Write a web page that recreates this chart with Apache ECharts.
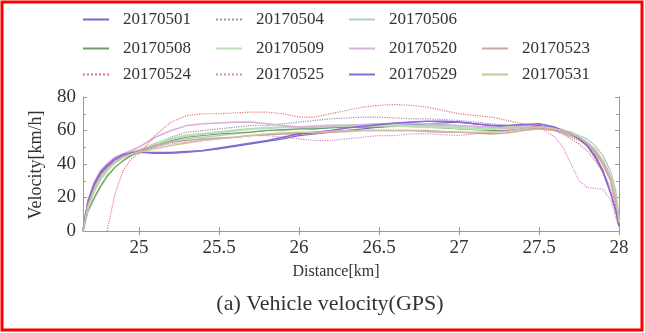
<!DOCTYPE html>
<html>
<head>
<meta charset="utf-8">
<script src="https://cdn.jsdelivr.net/npm/echarts@6/dist/echarts.min.js"></script>
<style>
html, body { margin: 0; padding: 0; background: #fff; }
#chart { width: 645px; height: 333px; }
</style>
</head>
<body>
<div id="chart"></div>
<script>
// distance points [km]
var dist = [24.65, 24.68, 24.72, 24.76, 24.8, 24.85, 24.9, 24.95, 25, 25.1, 25.2, 25.3, 25.4, 25.5, 25.6, 25.7, 25.8, 25.9, 26, 26.1, 26.2, 26.3, 26.4, 26.5, 26.6, 26.7, 26.8, 26.9, 27, 27.1, 27.2, 27.3, 27.4, 27.5, 27.6, 27.65, 27.7, 27.75, 27.8, 27.85, 27.9, 27.95, 27.98, 28];
var xTicks = [25, 25.5, 26, 26.5, 27, 27.5, 28];

// velocity [km/h] per day
var v20170501 = [0, 16, 27, 34, 38, 42, 45, 46.5, 47, 47, 47, 47.5, 48, 49, 50.5, 52, 53.5, 55, 57, 58, 59, 60, 61, 62, 63, 63.5, 64, 64.5, 65, 64, 63, 62, 62.5, 63, 61, 60, 58, 55, 51, 44, 35, 22, 12, 3];
var v20170504 = [0, 15, 26, 33, 38, 42, 45, 47, 48, 52, 56, 59, 60, 61, 62, 63, 63, 64, 65, 66, 67, 67.5, 68, 68, 67.5, 67, 67, 66.5, 66, 65, 64, 63, 63, 62, 60, 58, 56, 54, 52, 48, 42, 32, 20, 6];
var v20170506 = [0, 11, 19, 26, 32, 38, 42, 45, 47, 50, 53, 55, 56, 57, 58, 59, 60, 60, 61, 61, 62, 62, 62.5, 63, 63, 63, 63, 63, 62.5, 62, 61, 61, 62, 62, 61, 60, 59, 57, 55, 51, 45, 35, 24, 8];
var v20170508 = [0, 12, 20, 27, 33, 38, 42, 45, 47, 51, 54, 56, 57, 58, 58.5, 59, 60, 60.5, 61, 61, 61.5, 62, 62, 62, 62.5, 62.5, 62, 61.5, 61, 60.5, 60, 60, 61, 61.5, 61, 60, 58, 56, 53, 48, 40, 30, 18, 5];
var v20170509 = [0, 14, 24, 31, 36, 41, 44, 46, 48, 52, 55, 57, 58, 59, 60, 61, 61.5, 62, 62, 62.5, 63, 63, 63, 63, 63, 62.5, 62, 62, 61.5, 61, 61, 62, 62.5, 62, 61, 60, 58, 55, 52, 47, 40, 30, 18, 5];
var v20170520 = [0, 18, 29, 36, 40, 44, 46, 48, 50, 56, 60, 63, 64, 64.5, 65, 65, 64, 63, 62, 62, 62.5, 63, 63.5, 64, 64, 64, 64, 63.5, 63, 62.5, 62, 61.5, 62, 62, 61, 60, 58, 56, 53, 48, 40, 30, 18, 5];
var v20170523 = [0, 17, 28, 35, 39, 43, 45, 47, 48, 51, 53, 54, 55, 55.5, 56, 57, 57.5, 58, 58, 58.5, 59, 59.5, 60, 60, 60, 60, 59.5, 59, 59, 58.5, 58, 58.5, 60, 61, 60, 59, 57, 55, 52, 47, 40, 30, 18, 4];
var v20170524 = [null, null, null, null, 0, 22, 36, 43, 46, 57, 65, 69, 70, 70, 70.5, 71, 71, 70, 68, 68, 70, 72, 74, 75, 75.5, 75, 74, 72, 70, 69, 68, 66, 64, 62, 60, 58, 55, 52, 48, 42, 35, 26, 15, 4];
var v20170525 = [0, 18, 29, 36, 40, 44, 46, 47, 48, 50, 52, 53, 54, 55, 56, 57, 57, 56, 55, 54, 54, 55, 56, 57, 57, 58, 58, 57.5, 57, 58, 59, 60, 61, 62, 56, 50, 40, 30, 26, 25.5, 25, 18, 8, 2];
var v20170529 = [0, 17, 28, 35, 39, 43, 45.5, 46.5, 47, 46.5, 46.5, 47, 48, 49.5, 51, 52.5, 54, 56, 58, 59, 60, 61.5, 62.5, 63.5, 64.5, 65, 65.5, 65.5, 65, 64, 63, 63, 63.5, 64, 62, 60, 58, 55, 51, 45, 36, 22, 12, 3];
var v20170531 = [0, 15, 25, 32, 37, 41, 44, 46, 47, 49, 51, 52.5, 54, 55, 56, 57, 58, 58.5, 59, 59, 59.5, 60, 60, 60, 60, 60, 60, 59.5, 59, 59, 59, 59.5, 61, 62, 61, 60, 58, 56, 53, 49, 42, 32, 20, 5];

var names = ['20170501', '20170504', '20170506', '20170508', '20170509', '20170520', '20170523', '20170524', '20170525', '20170529', '20170531'];
var values = [v20170501, v20170504, v20170506, v20170508, v20170509, v20170520, v20170523, v20170524, v20170525, v20170529, v20170531];
var colors = ['#6d6dc4', '#9a90b4', '#a9cfc3', '#6f9d6f', '#b9e0b3', '#dab0dc', '#d3a5a1', '#e07a7a', '#d58cc6', '#8a68d6', '#cbc39a'];
var lineTypes = ['solid', 'dotted', 'solid', 'solid', 'solid', 'solid', 'solid', 'dotted', 'dotted', 'solid', 'solid'];
var widths = [1.3, 1.2, 1.3, 1.2, 2.4, 1.6, 1.6, 1.2, 1.2, 1.6, 1.4];

var font = 'Liberation Serif';

function pairs(arr) {
	var out = [];
	for (var i = 0; i < dist.length; i++) {
		out.push([dist[i], arr[i]]);
	}
	return out;
}

function makeLegend(data, top) {
	return {
		data: data,
		top: top,
		left: 77,
		orient: 'horizontal',
		itemWidth: 26,
		itemHeight: 10,
		itemGap: 24,
		itemStyle: { opacity: 0 },
		textStyle: {
			fontFamily: font,
			fontSize: 17,
			color: '#333',
			width: 70,
			padding: [0, 0, 0, 9]
		}
	};
}

var series = [];
for (var i = 0; i < names.length; i++) {
	series.push({
		name: names[i],
		type: 'line',
		symbol: 'none',
		smooth: false,
		connectNulls: false,
		color: colors[i],
		lineStyle: { width: widths[i], type: lineTypes[i], color: colors[i] },
		data: pairs(values[i])
	});
}

var axisCol = '#999';
var myChart = echarts.init(document.getElementById('chart'));
var option = {
	animation: false,
	backgroundColor: '#fff',
	legend: [
		makeLegend(names.slice(0, 3), 6),
		makeLegend(names.slice(3, 7), 35),
		makeLegend(names.slice(7, 11), 61)
	],
	grid: { left: 83, right: 26, top: 97, bottom: 102, outerBoundsMode: 'none' },
	xAxis: [{
		type: 'value',
		min: 24.65,
		max: 28,
		position: 'bottom',
		axisLine: { show: true, lineStyle: { color: axisCol } },
		axisTick: { show: true, inside: true, length: 4, customValues: xTicks, lineStyle: { color: axisCol } },
		axisLabel: { customValues: xTicks, fontFamily: font, fontSize: 19, color: '#333', margin: 8 },
		splitLine: { show: false }
	}, {
		type: 'value',
		min: 24.65,
		max: 28,
		position: 'top',
		axisLine: { show: true, lineStyle: { color: axisCol } },
		axisTick: { show: true, inside: true, length: 4, customValues: xTicks, lineStyle: { color: axisCol } },
		axisLabel: { show: false },
		splitLine: { show: false }
	}],
	yAxis: [{
		type: 'value',
		min: 0,
		max: 80,
		interval: 20,
		axisLine: { show: true, lineStyle: { color: axisCol } },
		axisTick: { show: true, inside: true, length: 4, lineStyle: { color: axisCol } },
		minorTick: { show: true, splitNumber: 2, length: 3, lineStyle: { color: axisCol } },
		axisLabel: { fontFamily: font, fontSize: 19, color: '#333', margin: 7 },
		splitLine: { show: false }
	}, {
		type: 'value',
		min: 0,
		max: 80,
		interval: 20,
		position: 'right',
		axisLine: { show: true, lineStyle: { color: axisCol } },
		axisTick: { show: true, inside: true, length: 4, lineStyle: { color: axisCol } },
		minorTick: { show: true, splitNumber: 2, length: 3, lineStyle: { color: axisCol } },
		axisLabel: { show: false },
		splitLine: { show: false }
	}],
	graphic: [{
		type: 'rect',
		shape: { x: 2, y: 2, width: 640, height: 328 },
		style: { fill: 'none', stroke: '#ff0000', lineWidth: 3 },
		z: 100
	}, {
		type: 'text',
		x: 36,
		y: 165,
		rotation: Math.PI / 2,
		style: { text: 'Velocity[km/h]', fontFamily: font, fontSize: 18, fill: '#333', textAlign: 'center', textVerticalAlign: 'middle' }
	}, {
		type: 'text',
		x: 336,
		y: 272,
		style: { text: 'Distance[km]', fontFamily: font, fontSize: 16, fill: '#333', textAlign: 'center', textVerticalAlign: 'middle' }
	}, {
		type: 'text',
		x: 330,
		y: 304,
		style: { text: '(a) Vehicle velocity(GPS)', fontFamily: font, fontSize: 22, fill: '#333', textAlign: 'center', textVerticalAlign: 'middle' }
	}],
	series: series
};
myChart.setOption(option);
</script>
</body>
</html>
